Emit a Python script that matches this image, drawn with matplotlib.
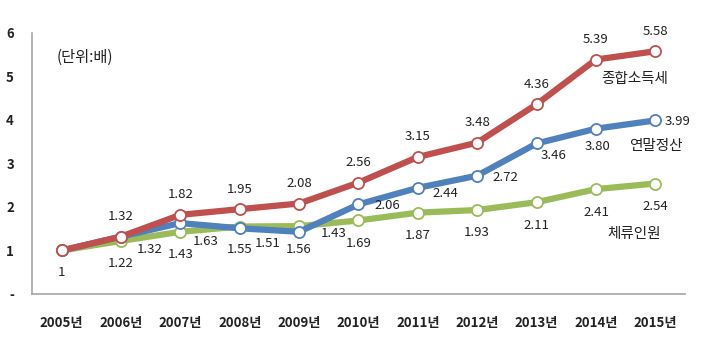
import matplotlib
matplotlib.use('Agg')
import matplotlib.pyplot as plt

plt.rcParams['font.family'] = ['Noto Sans CJK KR', 'DejaVu Sans']

years = ['2005년', '2006년', '2007년', '2008년', '2009년', '2010년',
         '2011년', '2012년', '2013년', '2014년', '2015년']
income_tax = [1, 1.32, 1.82, 1.95, 2.08, 2.56, 3.15, 3.48, 4.36, 5.39, 5.58]
year_end = [1, 1.32, 1.63, 1.51, 1.43, 2.06, 2.44, 2.72, 3.46, 3.80, 3.99]
residents = [1, 1.22, 1.43, 1.55, 1.56, 1.69, 1.87, 1.93, 2.11, 2.41, 2.54]

red = '#C0504D'
blue = '#4F81BD'
green = '#9BBB59'
txt = '#222222'

fig = plt.figure(figsize=(7.05, 3.43), dpi=100)
ax = fig.add_axes([0.0454, 0.1429, 0.9262, 0.7609])

x = list(range(len(years)))
for vals, c, z in [(residents, green, 2), (year_end, blue, 3), (income_tax, red, 4)]:
    ax.plot(x, vals, color=c, lw=4.5, marker='o', ms=8, mfc='white',
            mec=c, mew=1.3, zorder=z, solid_capstyle='round')

# value labels (offsets in points)
def lab(i, v, dx, dy):
    ax.annotate(f'{v:.2f}' if i else '1', (i, v), xytext=(dx, dy),
                textcoords='offset points', ha='center', va='center',
                fontsize=9.5, color=txt, zorder=6)

for i, v in enumerate(income_tax):
    if i == 0:
        lab(i, v, 0, -16)
    else:
        lab(i, v, 0, 14.5)

blue_off = [None, (21, -9), (18, -13), (20, -11), (25, -1), (21, -1),
            (20, -4), (20, -1), (12, -9), (1, -13), (16, -1)]
for i, v in enumerate(year_end):
    if i:
        lab(i, v, *blue_off[i])

for i, v in enumerate(residents):
    if i:
        lab(i, v, 0, -16.5)

ax.text(9.65, 4.94, '종합소득세', ha='center', va='center', fontsize=10.5, color=txt)
ax.text(10.0, 3.4, '연말정산', ha='center', va='center', fontsize=10.5, color=txt)
ax.text(9.65, 1.39, '체류인원', ha='center', va='center', fontsize=10.5, color=txt)
ax.text(0.038, 0.905, '(단위:배)', transform=ax.transAxes, ha='left',
        va='center', fontsize=11, color=txt)

ax.set_xlim(-0.5, 10.5)
ax.set_ylim(0, 6)
ax.set_xticks(x)
ax.set_xticklabels(years)
ax.set_yticks(range(7))
ax.set_yticklabels(['-', '1', '2', '3', '4', '5', '6'])
ax.tick_params(length=0, colors=txt, labelsize=9.5)
ax.tick_params(axis='x', pad=16)
ax.tick_params(axis='y', pad=13)
for t in ax.get_xticklabels() + ax.get_yticklabels():
    t.set_fontweight('bold')
for s in ['top', 'right']:
    ax.spines[s].set_visible(False)
for s in ['left', 'bottom']:
    ax.spines[s].set_color('#A6A6A6')
    ax.spines[s].set_linewidth(1.2)

fig.savefig('out.png', dpi=100)
